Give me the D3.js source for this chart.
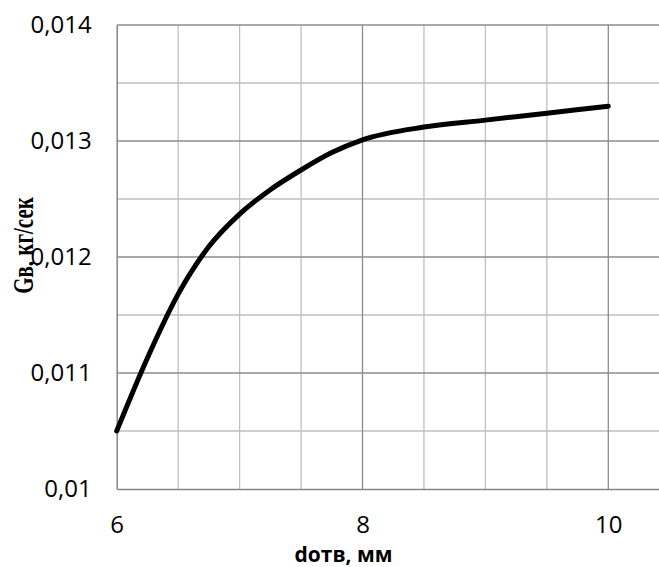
<!DOCTYPE html>
<html><head><meta charset="utf-8">
<script src="https://cdn.jsdelivr.net/npm/d3@7"></script>
<style>body{margin:0;background:#fff} svg{display:block}</style>
</head><body>
<svg id="c" width="659" height="567"></svg>
<script>
// Data
const dValues = [6, 6.25, 6.5, 6.75, 7, 7.25, 7.5, 7.75, 8, 8.5, 9, 9.5, 10];
const gValues = [0.0105, 0.01113, 0.01168, 0.01209, 0.01237, 0.01258, 0.01275, 0.01290, 0.01301, 0.01312, 0.01318, 0.01324, 0.0133];
const xTickValues = [6, 8, 10];
const yTickValues = [0.01, 0.011, 0.012, 0.013, 0.014];
const xLabel = "dотв, мм";
const yLabel = "Gв, кг/сек";

(function () {
const svg = d3.select("#c");
const pLeft = 116.7, pTop = 25, pBottom = 489;
const x = d3.scaleLinear().domain([6, 10.5]).range([pLeft, pLeft + 4.5 * 122.9]);
const y = d3.scaleLinear().domain([0.01, 0.014]).range([pBottom, pTop]);

const loc = d3.formatLocale({decimal: ",", thousands: " ", grouping: [3], currency: ["", ""]});
const fmt = loc.format(".3~f");

const xMinor = d3.range(6, 10.51, 0.5);
const yMinor = d3.range(0.0105, 0.0140, 0.001);

const g = svg.append("g");
g.selectAll(".vm").data(xMinor.filter(v => !xTickValues.includes(v) && v !== 6)).join("line")
  .attr("x1", d => x(d)).attr("x2", d => x(d)).attr("y1", pTop).attr("y2", pBottom)
  .attr("stroke", "#bfbfbf").attr("stroke-width", 1.3);
g.selectAll(".hm").data(yMinor).join("line")
  .attr("x1", pLeft).attr("x2", x(10.5)).attr("y1", d => y(d)).attr("y2", d => y(d))
  .attr("stroke", "#bfbfbf").attr("stroke-width", 1.3);
g.selectAll(".vM").data(xTickValues.filter(v => v !== 6)).join("line")
  .attr("x1", d => x(d)).attr("x2", d => x(d)).attr("y1", pTop).attr("y2", pBottom)
  .attr("stroke", "#8c8c8c").attr("stroke-width", 1.3);
g.selectAll(".hM").data(yTickValues.filter(v => v !== 0.01)).join("line")
  .attr("x1", pLeft).attr("x2", x(10.5)).attr("y1", d => y(d)).attr("y2", d => y(d))
  .attr("stroke", "#8c8c8c").attr("stroke-width", 1.3);

const xAxis = d3.axisBottom(x).tickValues(xTickValues).tickSize(0).tickPadding(26.5).tickFormat(fmt);
const yAxis = d3.axisLeft(y).tickValues(yTickValues).tickSize(0).tickPadding(25).tickFormat(fmt);
const ga = svg.append("g").attr("transform", `translate(0,${pBottom})`).call(xAxis);
const gy = svg.append("g").attr("transform", `translate(${pLeft},0)`).call(yAxis);
[ga, gy].forEach(a => {
  a.select(".domain").attr("stroke", "#868686").attr("stroke-width", 1.5);
  a.selectAll("text").attr("font-family", "'Open Sans', sans-serif").attr("font-size", 24).attr("fill", "#000");
});

const line = d3.line().x((d, i) => x(dValues[i])).y(d => y(d)).curve(d3.curveMonotoneX);
svg.append("path").datum(gValues).attr("d", line)
  .attr("fill", "none").attr("stroke", "#000").attr("stroke-width", 5)
  .attr("stroke-linecap", "round").attr("stroke-linejoin", "round");

svg.append("text").attr("x", 343.5).attr("y", 561.5).attr("text-anchor", "middle")
  .attr("font-family", "'Open Sans', sans-serif").attr("font-weight", "bold").attr("font-size", 21)
  .attr("fill", "#000").text(xLabel);
svg.append("text").attr("transform", "translate(33,245.5) rotate(-90) scale(1,1.4)").attr("text-anchor", "middle")
  .attr("font-family", "'Liberation Serif', 'Times New Roman', serif").attr("font-weight", "bold").attr("font-size", 21)
  .attr("fill", "#000").text(yLabel);
})();
</script>
</body></html>
